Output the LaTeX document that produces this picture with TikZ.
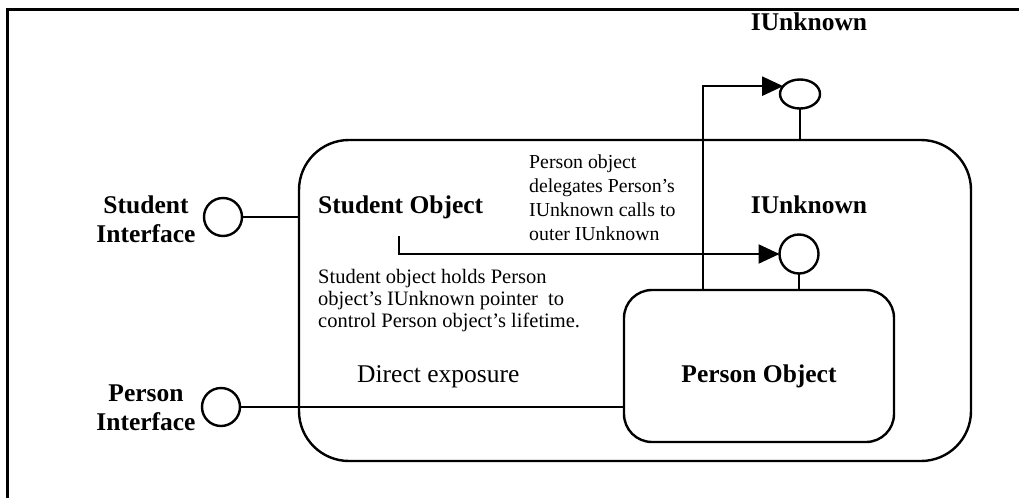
\documentclass[tikz,border=0pt]{standalone}
\usepackage{fontspec}
\setmainfont{Liberation Serif}
\usetikzlibrary{arrows.meta,shapes.geometric}
\begin{document}
\begin{tikzpicture}[x=1pt,y=-1pt,
  objbox/.style={draw, line width=2.4pt, rounded corners=#1, inner sep=0pt, outer sep=0pt},
  port/.style={draw, line width=2.4pt, circle, minimum size=38pt, inner sep=0pt, outer sep=0pt},
  outerport/.style={draw, line width=2.4pt, ellipse, minimum width=40pt, minimum height=29pt, inner sep=0pt, outer sep=0pt},
  label/.style={font=\fontsize{25.5}{29}\selectfont\bfseries, inner sep=0pt, align=center},
  plain/.style={font=\fontsize{25.5}{29}\selectfont, inner sep=0pt},
  notea/.style={font=\fontsize{19.8}{24}\selectfont, inner sep=0pt, align=left},
  noteb/.style={font=\fontsize{20.5}{22}\selectfont, inner sep=0pt, align=left},
  link/.style={line width=2.2pt},
  call/.style={line width=2.2pt, -{Triangle[length=21pt,width=19pt]}},
]
\useasboundingbox (0,0) rectangle (1019,498);

% page frame (top and left rules)
\draw[line width=3pt] (1019,9) -- (7,9) -- (7,498);

% outer (aggregating) object and inner aggregated object
\node[objbox=50pt, minimum width=672pt, minimum height=321pt] (student) at (635,300.5) {};
\node[objbox=28pt, minimum width=270pt, minimum height=152pt] (person) at (759,366) {};

% interface lollipops
\node[port] (sport) at (223,217) {};
\node[port] (pport) at (221,407) {};
\node[port, minimum size=39pt] (innerIU) at (799,254) {};
\node[outerport] (outerIU) at (800,94) {};

% labels
\node[label, anchor=north] (slabel) at (146,196) {Student\\Interface};
\node[label, anchor=north] (plabel) at (146,385) {Person\\Interface};
\node[label, anchor=base west] (sobj) at (318,213) {Student Object};
\node[label, anchor=base] (iuTop) at (809,30) {IUnknown};
\node[label, anchor=base] (iuIn) at (809,213) {IUnknown};
\node[label, anchor=base] (pobj) at (759,382) {Person Object};
\node[plain, anchor=base west] (direct) at (357,382) {Direct exposure};
\node[notea, anchor=north west] (deleg) at (529,155)
  {Person object\\delegates Person’s\\IUnknown calls to\\outer IUnknown};
\node[noteb, anchor=north west] (holds) at (318,269)
  {Student object holds Person\\object’s IUnknown pointer\ \ to\\control Person object’s lifetime.};

% connectors
\draw[link] (sport.east) -- (sport -| student.west);
\draw[link] (pport.east) -- (pport -| person.west);
\draw[link] (outerIU.south) -- (outerIU.south |- student.north);
\draw[link] (innerIU.south) -- (innerIU.south |- person.north);

\coordinate (tap) at (399,236);
\coordinate (riser) at (703,290);
\draw[call] (tap) |- (innerIU.west);
\draw[call] (riser) |- (outerIU.155);
\end{tikzpicture}
\end{document}
